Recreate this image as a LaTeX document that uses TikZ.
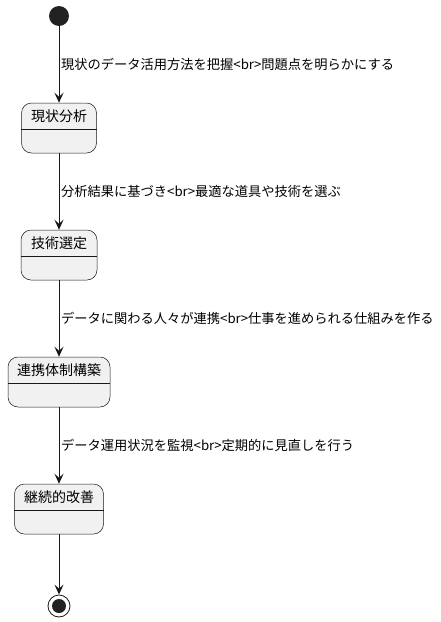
\documentclass[tikz,border=0pt]{standalone}
\usepackage{fontspec}
\setmainfont{Noto Sans CJK JP}
\usetikzlibrary{arrows.meta}
\definecolor{bd}{HTML}{181818}
\definecolor{sf}{HTML}{F1F1F1}
\definecolor{dot}{HTML}{222222}
\begin{document}
\begin{tikzpicture}[x=1pt,y=-1pt,
  statebox/.style={draw=bd, fill=sf, line width=0.5pt, rounded corners=10pt, inner sep=0pt, minimum height=50pt},
  stitle/.style={font=\fontsize{14}{16}\selectfont, inner sep=0pt, anchor=center},
  sep/.style={draw=bd, line width=0.5pt},
  flow/.style={draw=bd, line width=1pt, -{Stealth[length=10pt,width=9pt,inset=4pt]}},
  lbl/.style={font=\fontsize{13.25}{15}\selectfont, anchor=west, inner sep=1pt, xshift=1pt}
]
\useasboundingbox (0,0) rectangle (440,622);
% start
\node[circle, fill=dot, minimum size=20pt, inner sep=0pt] (st) at (59,16) {};
% states
\node[statebox, minimum width=75pt] (s1) at (59,128) {};
\node[stitle] (t1) at (59,116) {現状分析};
\draw[sep] (s1.west |- 0,129) -- (s1.east |- 0,129);

\node[statebox, minimum width=76pt] (s2) at (59,255) {};
\node[stitle] (t2) at (59,243) {技術選定};
\draw[sep] (s2.west |- 0,256) -- (s2.east |- 0,256);

\node[statebox, minimum width=102pt] (s3) at (59,382) {};
\node[stitle] (t3) at (59,370) {連携体制構築};
\draw[sep] (s3.west |- 0,383) -- (s3.east |- 0,383);

\node[statebox, minimum width=89pt] (s4) at (59,509) {};
\node[stitle] (t4) at (59,497) {継続的改善};
\draw[sep] (s4.west |- 0,510) -- (s4.east |- 0,510);
% end
\node[circle, draw=bd, line width=0.8pt, minimum size=22pt, inner sep=0pt] (en) at (59,606) {};
\node[circle, fill=dot, minimum size=14pt, inner sep=0pt] (eni) at (en.center) {};
% transitions
\draw[flow] (st) -- (s1);
\draw[flow] (s1) -- (s2);
\draw[flow] (s2) -- (s3);
\draw[flow] (s3) -- (s4);
\draw[flow] (s4) -- (en);
\path (st) -- node[lbl] (l1) {現状のデータ活用方法を把握<br>問題点を明らかにする} (s1);
\path (s1) -- node[lbl] (l2) {分析結果に基づき<br>最適な道具や技術を選ぶ} (s2);
\path (s2) -- node[lbl] (l3) {データに関わる人々が連携<br>仕事を進められる仕組みを作る} (s3);
\path (s3) -- node[lbl] (l4) {データ運用状況を監視<br>定期的に見直しを行う} (s4);
\end{tikzpicture}
\end{document}
